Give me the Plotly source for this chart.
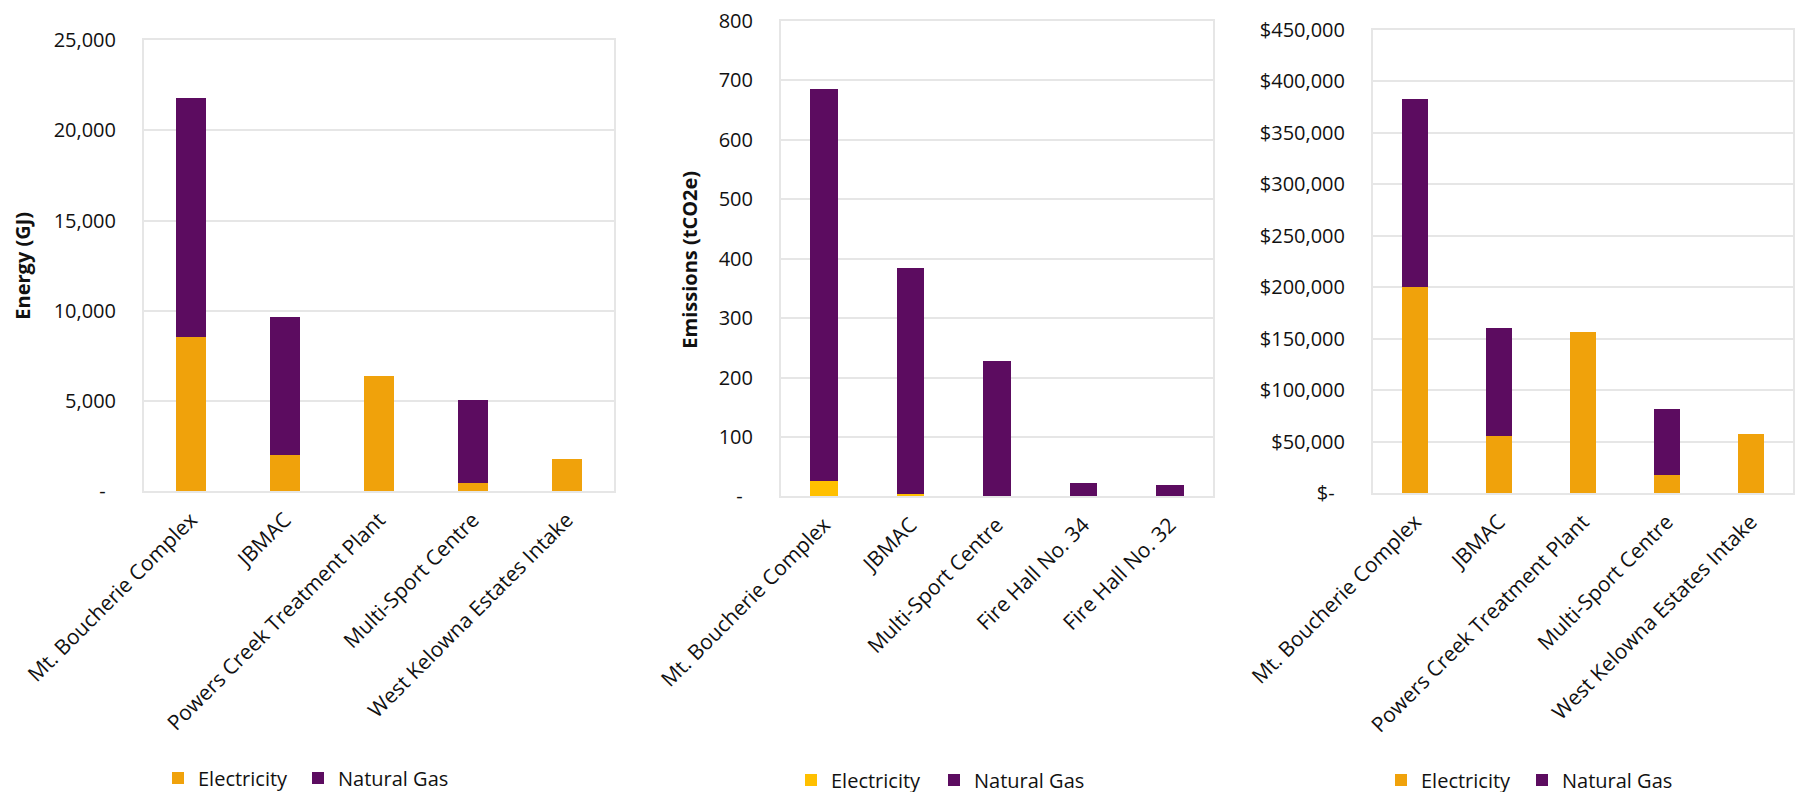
import plotly.graph_objects as go

# ---------------- data ----------------
energy_categories = ["Mt. Boucherie Complex", "JBMAC", "Powers Creek Treatment Plant",
                     "Multi-Sport Centre", "West Kelowna Estates Intake"]
energy_electricity = [8560, 2030, 6400, 480, 1810]
energy_natural_gas = [13230, 7640, 0, 4590, 0]
energy_tickvals = [0, 5000, 10000, 15000, 20000, 25000]
energy_ticktext = ["-\u00a0\u00a0", "5,000", "10,000", "15,000", "20,000", "25,000"]

emis_categories = ["Mt. Boucherie Complex", "JBMAC", "Multi-Sport Centre",
                   "Fire Hall No. 34", "Fire Hall No. 32"]
emis_electricity = [26.4, 4.5, 0.5, 0.3, 0.3]
emis_natural_gas = [658.6, 380.5, 228.0, 22.7, 19.4]
emis_tickvals = [0, 100, 200, 300, 400, 500, 600, 700, 800]
emis_ticktext = ["-\u00a0\u00a0", "100", "200", "300", "400", "500", "600", "700", "800"]

cost_categories = ["Mt. Boucherie Complex", "JBMAC", "Powers Creek Treatment Plant",
                   "Multi-Sport Centre", "West Kelowna Estates Intake"]
cost_electricity = [200450, 55700, 156740, 17810, 57640]
cost_natural_gas = [182650, 104920, 0, 64120, 0]
cost_tickvals = [0, 50000, 100000, 150000, 200000, 250000, 300000, 350000, 400000, 450000]
cost_ticktext = ["$-\u00a0\u00a0", "$50,000", "$100,000", "$150,000", "$200,000", "$250,000",
                 "$300,000", "$350,000", "$400,000", "$450,000"]

series_names = ["Electricity", "Natural Gas"]

# ---------------- style ----------------
W, H = 1801, 792          # target picture size (layout is designed in these pixels)
HFIG = 800                # figure height (captured picture is squeezed back to 792)
ORANGE = "#F0A20B"
YELLOW = "#FFC000"
PURPLE = "#5C0C60"
GRID = "#E6E6E6"
FONT = "Open Sans"
TXT = "#111111"

fig = go.Figure()

panels = [
    dict(cats=energy_categories, el=energy_electricity, ng=energy_natural_gas,
         ax="x", ay="y", leg_el="legend", leg_ng="legend4", elcol=ORANGE),
    dict(cats=emis_categories, el=emis_electricity, ng=emis_natural_gas,
         ax="x2", ay="y2", leg_el="legend2", leg_ng="legend5", elcol=YELLOW),
    dict(cats=cost_categories, el=cost_electricity, ng=cost_natural_gas,
         ax="x3", ay="y3", leg_el="legend3", leg_ng="legend6", elcol=ORANGE),
]

for p in panels:
    fig.add_trace(go.Bar(x=p["cats"], y=p["el"], name=series_names[0],
                         marker=dict(color=p["elcol"], line=dict(width=0)),
                         width=0.32, xaxis=p["ax"], yaxis=p["ay"], legend=p["leg_el"]))
    fig.add_trace(go.Bar(x=p["cats"], y=p["ng"], name=series_names[1],
                         marker=dict(color=PURPLE, line=dict(width=0)),
                         width=0.32, xaxis=p["ax"], yaxis=p["ay"], legend=p["leg_ng"]))

# pixel geometry -> paper fractions
def px(x):
    return x / W

def py(y):
    return 1 - y / H

def xd(a, b):
    return [px(a), px(b)]

def yd(top, bottom):
    return [py(bottom), py(top)]

frames = [
    (xd(144, 614), yd(40, 492), [0, 25000], energy_tickvals, energy_ticktext),
    (xd(781, 1213), yd(21, 497), [0, 800], emis_tickvals, emis_ticktext),
    (xd(1373, 1793), yd(30, 494), [0, 450000], cost_tickvals, cost_ticktext),
]

axis_common = dict(showline=True, linecolor=GRID, linewidth=2, mirror=True,
                   automargin=False)

for i, (xdom, ydom, yr, tv, tt) in enumerate(frames):
    sfx = "" if i == 0 else str(i + 1)
    fig.layout["xaxis" + sfx] = dict(
        domain=xdom, anchor="y" + sfx, type="category",
        tickangle=-45, ticks="outside", ticklen=6, tickcolor="rgba(0,0,0,0)",
        showgrid=False, tickfont=dict(family=FONT, size=21, color=TXT),
        ticklabeloverflow="allow", **axis_common)
    fig.layout["yaxis" + sfx] = dict(
        domain=ydom, anchor="x" + sfx, range=yr, tickmode="array",
        tickvals=tv, ticktext=tt, showgrid=True, gridcolor=GRID, gridwidth=1.5,
        zeroline=False, ticks="outside", ticklen=22, tickcolor="rgba(0,0,0,0)",
        tickfont=dict(family=FONT, size=20, color=TXT),
        ticklabeloverflow="allow", **axis_common)

# one legend per entry so each swatch can sit where the reference has it
legend_common = dict(orientation="h", yanchor="middle", xanchor="left",
                     font=dict(family=FONT, size=20, color=TXT),
                     bgcolor="rgba(0,0,0,0)", traceorder="normal", itemwidth=30)
fig.update_layout(
    legend=dict(x=px(158), y=py(779), **legend_common),
    legend2=dict(x=px(791), y=py(781), **legend_common),
    legend3=dict(x=px(1381), y=py(781), **legend_common),
    legend4=dict(x=px(298), y=py(779), **legend_common),
    legend5=dict(x=px(934), y=py(781), **legend_common),
    legend6=dict(x=px(1522), y=py(781), **legend_common),
)

fig.add_annotation(text="<b>Energy (GJ)</b>", xref="paper", yref="paper",
                   x=px(23), y=py(266), textangle=-90, showarrow=False,
                   xanchor="center", yanchor="middle",
                   font=dict(family=FONT, size=20, color=TXT))
fig.add_annotation(text="<b>Emissions (tCO2e)</b>", xref="paper", yref="paper",
                   x=px(690), y=py(260), textangle=-90, showarrow=False,
                   xanchor="center", yanchor="middle",
                   font=dict(family=FONT, size=20, color=TXT))

fig.update_layout(
    width=W, height=HFIG, autosize=False,
    margin=dict(l=0, r=0, t=0, b=0),
    barmode="stack", showlegend=True,
    paper_bgcolor="white", plot_bgcolor="white",
    font=dict(family=FONT, color=TXT),
)

# page reset: no body margin, nothing overflowing the figure
reset_js = """
(function(){
  function fix(){
    var d = document.documentElement, b = document.body;
    d.style.margin = '0'; b.style.margin = '0';
    d.style.overflow = 'hidden'; b.style.overflow = 'hidden';
    b.style.height = '%dpx';
    var svgs = document.querySelectorAll('.main-svg');
    for (var i = 0; i < svgs.length; i++) { svgs[i].style.overflow = 'hidden'; }
  }
  fix(); setTimeout(fix, 0); setTimeout(fix, 200);
})();
""" % HFIG

fig.write_html("out.html", post_script=reset_js,
               config={"displayModeBar": False})
